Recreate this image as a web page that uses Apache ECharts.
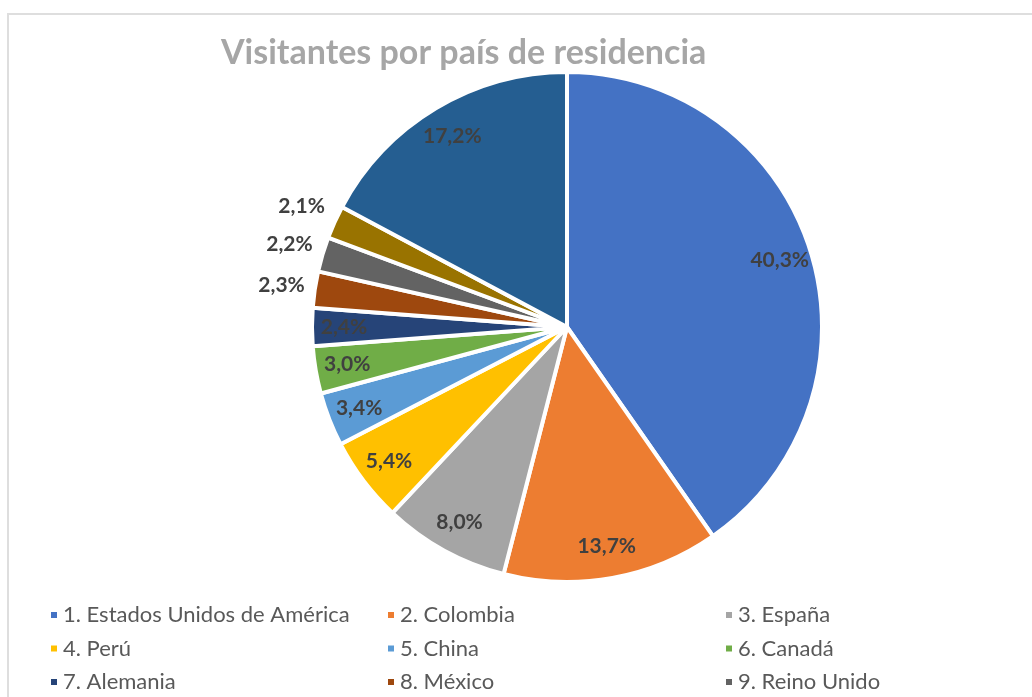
<!DOCTYPE html>
<html>
<head>
<meta charset="utf-8">
<script src="https://cdn.jsdelivr.net/npm/echarts@6/dist/echarts.min.js"></script>
<style>
  html, body { margin: 0; padding: 0; background: #fff; overflow: hidden; }
  #frame { position: absolute; left: 7px; top: 13px; width: 1100px; height: 800px; border: 2px solid #dedede; box-sizing: border-box; }
  #chart { position: absolute; left: 0; top: 0; width: 1032px; height: 697px; }
</style>
</head>
<body>
<div id="frame"></div>
<div id="chart"></div>
<script>
const titleText = 'Visitantes por país de residencia';

const paises = [
  '1. Estados Unidos de América', '2. Colombia', '3. España', '4. Perú',
  '5. China', '6. Canadá', '7. Alemania', '8. México', '9. Reino Unido',
  '10. Otros (a)', '11. Otros'
];
const porcentajes = [40.3, 13.7, 8.0, 5.4, 3.4, 3.0, 2.4, 2.3, 2.2, 2.1, 17.2];
const colores = [
  '#4472c4', '#ed7d31', '#a5a5a5', '#ffc000', '#5b9bd5', '#70ad47',
  '#264478', '#9e480e', '#636363', '#997300', '#255e91'
];
// slices whose label sits outside the pie, with an upward nudge (px)
const etiquetasFuera = { 7: -4, 8: -9, 9: -15 };

const fmt = v => v.toFixed(1).replace('.', ',') + '%';
const font = 'Lato, "Open Sans", sans-serif';

const chart = echarts.init(document.getElementById('chart'));

const labelBase = {
  color: '#404040',
  fontFamily: font,
  fontWeight: 'bold',
  fontSize: 21
};

const legendCol = (items, left) => ({
  orient: 'vertical',
  left: left,
  top: 599,
  height: 300,
  itemWidth: 8,
  itemHeight: 8,
  itemGap: 11.5,
  icon: 'rect',
  selectedMode: false,
  data: items,
  textStyle: { color: '#595959', fontFamily: font, fontSize: 22, lineHeight: 22 }
});

const option = {
  animation: false,
  title: {
    text: titleText,
    left: 216,
    top: 31,
    textStyle: { color: '#a6a6a6', fontFamily: font, fontWeight: 'bold', fontSize: 34 }
  },
  legend: [
    legendCol(paises.filter((_, i) => i % 3 === 0), 44),
    legendCol(paises.filter((_, i) => i % 3 === 1), 381),
    legendCol(paises.filter((_, i) => i % 3 === 2), 719)
  ],
  series: [
    {
      type: 'pie',
      center: [567, 327],
      radius: [0, 255],
      startAngle: 90,
      clockwise: true,
      avoidLabelOverlap: false,
      itemStyle: { borderColor: '#fff', borderWidth: 4 },
      emphasis: { disabled: true },
      labelLine: { show: false, length: 3, length2: 2 },
      labelLayout: p => ({ dy: etiquetasFuera[p.dataIndex] || 0 }),
      data: paises.map((name, i) => ({
        name,
        value: porcentajes[i],
        itemStyle: { color: colores[i] },
        label: etiquetasFuera[i] === undefined
          ? { show: false }
          : Object.assign({}, labelBase, {
              show: true,
              position: 'outside',
              formatter: p => fmt(p.value)
            })
      }))
    },
    {
      type: 'pie',
      silent: true,
      center: [567, 327],
      radius: [185, 255],
      startAngle: 90,
      clockwise: true,
      avoidLabelOverlap: false,
      emphasis: { disabled: true },
      itemStyle: { color: 'rgba(0,0,0,0)' },
      labelLine: { show: false },
      data: paises.map((name, i) => ({
        name,
        value: porcentajes[i],
        label: Object.assign({}, labelBase, {
          show: etiquetasFuera[i] === undefined,
          position: 'inside',
          formatter: p => fmt(p.value)
        })
      }))
    }
  ]
};

chart.setOption(option);
</script>
</body>
</html>
